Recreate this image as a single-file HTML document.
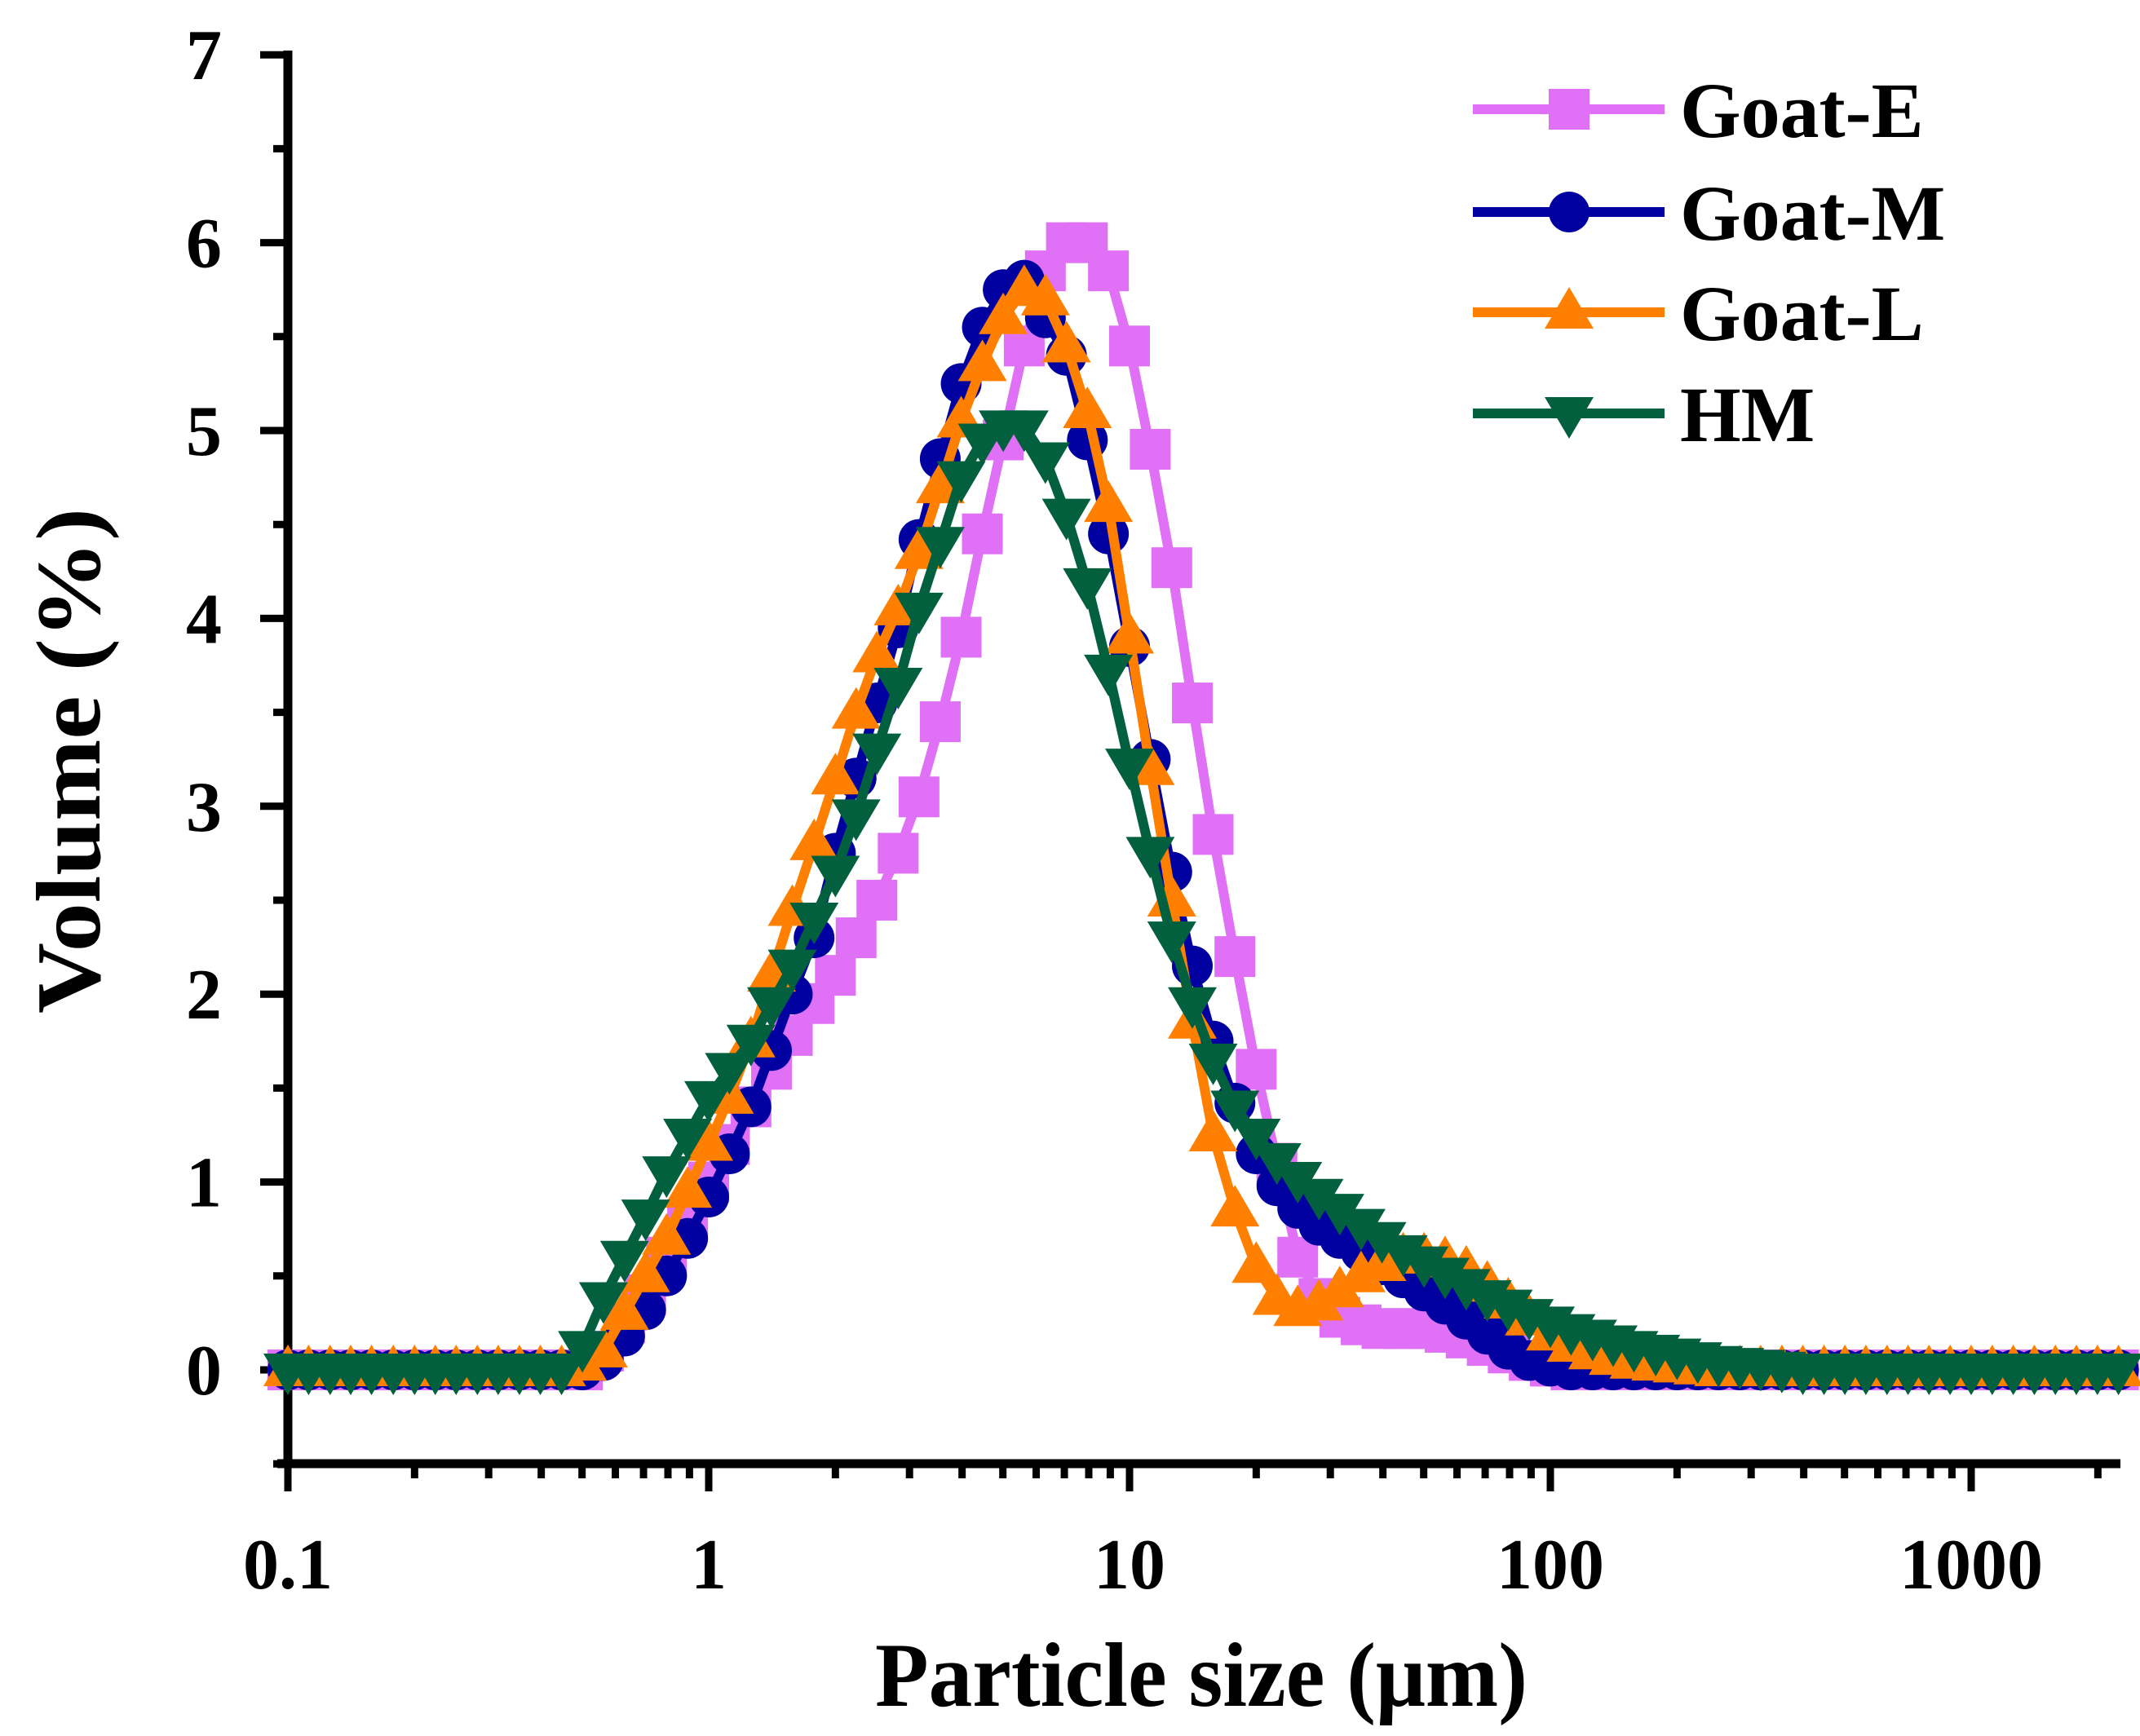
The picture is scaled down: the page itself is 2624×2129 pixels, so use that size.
<!DOCTYPE html>
<html><head><meta charset="utf-8"><style>
html,body{margin:0;padding:0;background:#fff;}
svg{display:block;}
text{font-family:"Liberation Serif",serif;font-weight:bold;fill:#000;}
</style></head>
<body>
<svg id="chart" width="2624" height="2129" viewBox="0 0 2624 2129" xmlns="http://www.w3.org/2000/svg">
<g id="axes"></g>
<g id="series"></g>
<g id="legend"></g>
<text x="1473" y="2092" font-size="112" text-anchor="middle" textLength="800" lengthAdjust="spacingAndGlyphs">Particle size (μm)</text>
<text x="0" y="0" font-size="112" text-anchor="middle" textLength="620" lengthAdjust="spacingAndGlyphs" transform="translate(122,933) rotate(-90)">Volume (%)</text>
</svg>
<script>
const sizes = [0.1,0.112,0.126,0.141,0.158,0.178,0.2,0.224,0.251,0.282,0.316,0.355,0.398,0.447,0.501,0.562,0.631,0.708,0.794,0.891,1,1.12,1.26,1.41,1.58,1.78,2,2.24,2.51,2.82,3.16,3.55,3.98,4.47,5.01,5.62,6.31,7.08,7.94,8.91,10,11.2,12.6,14.1,15.8,17.8,20,22.4,25.1,28.2,31.6,35.5,39.8,44.7,50.1,56.2,63.1,70.8,79.4,89.1,100,112,126,141,158,178,200,224,251,282,316,355,398,447,501,562,631,708,794,891,1000,1122,1259,1413,1585,1778,1995,2239];
const goatE = [0,0,0,0,0,0,0,0,0,0,0,0,0,0,
 0.0,0.1,0.25,0.4,0.6,0.8,1.0,1.2,1.4,1.6,1.78,1.95,2.1,2.3,2.5,2.75,3.05,3.45,3.9,4.45,4.95,5.45,5.85,6.0,6.0,5.85,5.45,4.9,4.27,3.55,2.85,2.2,1.6,1.1,0.6,0.38,0.28,0.24,0.22,0.22,0.22,0.2,0.17,0.13,0.09,0.05,0.02,
 0,0,0,0,0,0,0,0,0,0,0,0,0,0,0,0,0,0,0,0,0,0,0,0,0,0,0];
const goatM = [0,0,0,0,0,0,0,0,0,0,0,0,0,0,
 0.0,0.05,0.18,0.32,0.5,0.7,0.92,1.15,1.4,1.7,2.0,2.3,2.75,3.15,3.55,3.95,4.42,4.85,5.25,5.55,5.75,5.8,5.6,5.4,4.95,4.45,3.85,3.25,2.65,2.15,1.75,1.42,1.15,0.98,0.86,0.77,0.7,0.63,0.56,0.49,0.42,0.35,0.27,0.19,0.11,0.05,0.02,
 0,0,0,0,0,0,0,0,0,0,0,0,0,0,0,0,0,0,0,0,0,0,0,0,0,0,0];
const goatL = [0,0,0,0,0,0,0,0,0,0,0,0,0,0,
 0.03,0.1,0.3,0.5,0.7,0.95,1.2,1.45,1.75,2.1,2.45,2.8,3.15,3.5,3.8,4.05,4.35,4.7,5.05,5.35,5.6,5.75,5.7,5.45,5.1,4.6,3.9,3.2,2.5,1.85,1.25,0.85,0.55,0.38,0.32,0.35,0.42,0.5,0.56,0.6,0.6,0.58,0.53,0.45,0.36,0.27,0.19,0.13,0.09,0.06,0.04,0.03,0.02,0.01,
 0,0,0,0,0,0,0,0,0,0,0,0,0,0,0,0,0,0,0,0];
const hm = [0,0,0,0,0,0,0,0,0,0,0,0,0,0,
 0.12,0.38,0.6,0.82,1.05,1.25,1.45,1.6,1.75,1.95,2.15,2.4,2.65,2.95,3.3,3.65,4.05,4.4,4.75,4.95,5.02,5.02,4.85,4.55,4.18,3.72,3.22,2.75,2.3,1.95,1.65,1.4,1.25,1.12,1.02,0.93,0.85,0.77,0.7,0.63,0.57,0.51,0.45,0.39,0.34,0.29,0.25,0.21,0.18,0.15,0.12,0.1,0.08,0.06,0.04,0.03,0.02,0.01,
 0,0,0,0,0,0,0,0,0,0,0,0,0,0,0,0];
const yTicks = [0,1,2,3,4,5,6,7];
const xTickLabels = ["0.1","1","10","100","1000"];
const xTickValues = [0.1,1,10,100,1000];
const seriesNames = ["Goat-E","Goat-M","Goat-L","HM"];

const NS="http://www.w3.org/2000/svg";
const X0=353, DEC=516, Y0=1680, YU=230.4;
function xs(v){return X0+(Math.log10(v)+1)*DEC;}
function ys(v){return Y0-v*YU;}
function mk(tag,attrs,parent){const e=document.createElementNS(NS,tag);for(const k in attrs)e.setAttribute(k,attrs[k]);parent.appendChild(e);return e;}

const axes=document.getElementById('axes');
let e;
e=mk('line',{x1:353,y1:62,x2:353,y2:1800,stroke:'#000','stroke-width':11},axes);


e=mk('line',{x1:340,y1:1795,x2:2600,y2:1795,stroke:'#000','stroke-width':11},axes);


for(let v=-0.5;v<=7.001;v+=0.5){
  const major=Math.abs(v-Math.round(v))<1e-6 && v>=0;
  e=mk('line',{x1:353-(major?34:18),y1:ys(v),x2:353,y2:ys(v),stroke:'#000','stroke-width':9},axes);
  
  
}
yTicks.forEach(t=>{
  const tx=mk('text',{x:272,y:ys(t)+30,'font-size':88,'text-anchor':'end'},axes);
  tx.textContent=t;
  
  
});
for(let d=-1;d<=3;d++){
  for(let m=1;m<=9;m++){
    const v=m*Math.pow(10,d);
    if(v>2240)continue;
    const major=m===1;
    e=mk('line',{x1:xs(v),y1:1795,x2:xs(v),y2:1795+(major?34:18),stroke:'#000','stroke-width':9},axes);
    
    
  }
}
xTickValues.forEach((v,i)=>{
  const tx=mk('text',{x:xs(v),y:1948,'font-size':88,'text-anchor':'middle'},axes);
  tx.textContent=xTickLabels[i];
  
  
});

const colors=['#e070f5','#0000a0','#ff8000','#03603e'];
const shapes=['square','circle','up','down'];
function marker(shape,cx,cy,col,parent){
  let m;
  if(shape==='square') m=mk('rect',{x:cx-25,y:cy-25,width:50,height:50,fill:col},parent);
  else if(shape==='circle') m=mk('circle',{cx:cx,cy:cy,r:25,fill:col},parent);
  else if(shape==='up') m=mk('polygon',{points:`${cx},${cy-31} ${cx+30},${cy+20} ${cx-30},${cy+20}`,fill:col},parent);
  else m=mk('polygon',{points:`${cx},${cy+31} ${cx+30},${cy-20} ${cx-30},${cy-20}`,fill:col},parent);
  return m;
}
const sl=document.getElementById('series');
[goatE,goatM,goatL,hm].forEach((arr,si)=>{
  const g=mk('g',{},sl);
  
  
  const n=Math.min(arr.length,sizes.length);
  const pts=[];
  for(let i=0;i<n;i++)pts.push(xs(sizes[i]).toFixed(1)+','+ys(arr[i]).toFixed(1));
  const pl=mk('polyline',{points:pts.join(' '),fill:'none',stroke:colors[si],'stroke-width':12,'stroke-linejoin':'round'},g);
  
  
  for(let i=0;i<n;i++){
    const m=marker(shapes[si],xs(sizes[i]),ys(arr[i]),colors[si],g);
    
    
  }
});

const lg=document.getElementById('legend');
const rows=[134,260,383,507];
seriesNames.forEach((nm,i)=>{
  const g=mk('g',{},lg);
  
  
  mk('line',{x1:1806,y1:rows[i],x2:2041,y2:rows[i],stroke:colors[i],'stroke-width':12},g);
  marker(shapes[i],1924,rows[i],colors[i],g);
  const t=mk('text',{x:2060,y:rows[i]+34,'font-size':96},g);
  t.textContent=nm;
  
  
});
</script>
</body></html>
